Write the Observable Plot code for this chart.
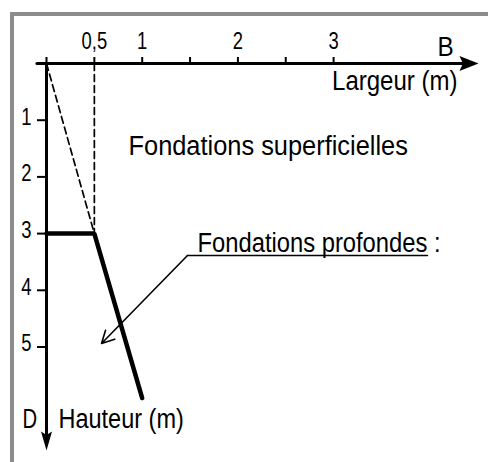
<!DOCTYPE html>
<html><head><meta charset="utf-8">
<script src="https://cdn.jsdelivr.net/npm/d3@7"></script>
<script src="https://cdn.jsdelivr.net/npm/@observablehq/plot@0.6"></script>
<style>
body{margin:0;background:#fff;}
#wrap{position:relative;width:488px;height:462px;overflow:hidden;}
#frame{position:absolute;left:10px;top:12px;width:500px;height:480px;border-top:4px solid #8c8c8c;border-left:4px solid #8c8c8c;}
#chart{position:absolute;left:0;top:0;}
</style></head><body>
<div id="wrap"><div id="frame"></div><div id="chart"></div></div>
<script>
// ---- data (metres) ----
const xTicks = [0, 0.5, 1, 1.5, 2, 2.5, 3];
const xTickLabels = ["", "0,5", "1", "", "2", "", "3"];
const yTicks = [1, 2, 3, 4, 5];
const yTickLabels = ["1", "2", "3", "4", "5"];
const shallowLimit = [{x: 0, y: 0}, {x: 0.5, y: 3}];
const shallowWidth = [{x: 0.5, y: 0}, {x: 0.5, y: 3}];
const deepBoundary = [{x: 0, y: 3}, {x: 0.5, y: 3}, {x: 1.0, y: 5.9}];
const xAxisLine = [{x: -0.1, y: 0}, {x: 4.42, y: 0}];
const yAxisLine = [{x: 0, y: 0}, {x: 0, y: 6.72}];
const xAxisTip = [{x: 4.514, y: 0}];
const yAxisTip = [{x: 0, y: 6.826}];
const calloutUnderline = [{x: 3.98, y: 3.386}, {x: 1.473, y: 3.386}];
const calloutArrow = [{x1: 1.473, y1: 3.386, x2: 0.575, y2: 4.938}];
const startLabels = [
  {x: 0.857, y: 1.62, text: "Fondations superficielles"},
  {x: 1.578, y: 3.333, text: "Fondations profondes :"},
  {x: -0.251, y: 6.42, text: "D"},
  {x: 0.125, y: 6.42, text: "Hauteur (m)"}
];
const endLabels = [{x: 4.295, y: 0.476, text: "Largeur (m)"}];
const midLabels = [{x: 4.169, y: -0.141, text: "B"}];

const xTickText = xTicks.map((v, i) => ({x: v, y: 0, text: xTickLabels[i]})).filter(d => d.text);
const yTickText = yTicks.map((v, i) => ({x: 0, y: v, text: yTickLabels[i]}));

// ---- styling ----
const FONT = '"Liberation Sans", Arial, sans-serif';
const NARROW = 0.8; // default horizontal condensing (narrow typeface look)
const condense = {   // per-label condensing for the large labels
  "Fondations superficielles": 0.94,
  "Fondations profondes :": 0.88,
  "Largeur (m)": 0.89,
  "Hauteur (m)": 0.87,
  "B": 0.9,
  "D": 0.75
};

function head(L, W) {
  return {draw(ctx) {
    ctx.moveTo(0, 0);
    ctx.lineTo(W, L);
    ctx.lineTo(0, L * 0.82);
    ctx.lineTo(-W, L);
    ctx.closePath();
  }};
}

const chart = Plot.plot({
  width: 488, height: 462,
  marginTop: 63, marginLeft: 46, marginRight: 0, marginBottom: 0,
  x: {domain: [0, 1], range: [46, 141.7], label: null},
  y: {domain: [0, 5], range: [63, 346.5], label: null},
  style: {fontFamily: FONT, background: "transparent", overflow: "visible", color: "#000"},
  marks: [
    Plot.line(shallowLimit, {x: "x", y: "y", stroke: "#000", strokeWidth: 1.7, strokeDasharray: "7,4"}),
    Plot.line(shallowWidth, {x: "x", y: "y", stroke: "#000", strokeWidth: 1.7, strokeDasharray: "7,4"}),
    Plot.line(xAxisLine, {x: "x", y: "y", stroke: "#000", strokeWidth: 3}),
    Plot.line(yAxisLine, {x: "x", y: "y", stroke: "#000", strokeWidth: 3}),
    Plot.dot(xAxisTip, {x: "x", y: "y", symbol: head(19, 7.5), rotate: 90, fill: "#000", stroke: "none"}),
    Plot.dot(yAxisTip, {x: "x", y: "y", symbol: head(19, 5.5), rotate: 180, fill: "#000", stroke: "none"}),
    Plot.axisX({anchor: "top", ticks: xTicks, tickFormat: () => "", tickSize: 7, strokeWidth: 2, label: null}),
    Plot.axisY({anchor: "left", ticks: yTicks, tickFormat: () => "", tickSize: 9, strokeWidth: 2, label: null}),
    Plot.text(xTickText, {x: "x", y: "y", text: "text", textAnchor: "middle", lineAnchor: "bottom", dy: -15, fontSize: 23, fill: "#000"}),
    Plot.text(yTickText, {x: "x", y: "y", text: "text", textAnchor: "end", lineAnchor: "middle", dx: -15, dy: -3, fontSize: 23, fill: "#000"}),
    Plot.line(deepBoundary, {x: "x", y: "y", stroke: "#000", strokeWidth: 4.5, strokeLinejoin: "miter"}),
    Plot.line(calloutUnderline, {x: "x", y: "y", stroke: "#000", strokeWidth: 1.6}),
    Plot.arrow(calloutArrow, {x1: "x1", y1: "y1", x2: "x2", y2: "y2", stroke: "#000", strokeWidth: 1.6, headLength: 13, headAngle: 55}),
    Plot.text(startLabels, {x: "x", y: "y", text: "text", textAnchor: "start", lineAnchor: "bottom", fontSize: 27, fill: "#000"}),
    Plot.text(endLabels, {x: "x", y: "y", text: "text", textAnchor: "end", lineAnchor: "bottom", fontSize: 27, fill: "#000"}),
    Plot.text(midLabels, {x: "x", y: "y", text: "text", textAnchor: "middle", lineAnchor: "bottom", fontSize: 27, fill: "#000"})
  ]
});
document.getElementById("chart").appendChild(chart);
// condense glyphs to mimic the narrow typeface of the original
chart.querySelectorAll("text").forEach(t => {
  const w = t.getComputedTextLength();
  if (w > 0) {
    const k = condense[t.textContent] ?? NARROW;
    t.setAttribute("textLength", (w * k).toFixed(2));
    t.setAttribute("lengthAdjust", "spacingAndGlyphs");
  }
});
</script>
</body></html>
